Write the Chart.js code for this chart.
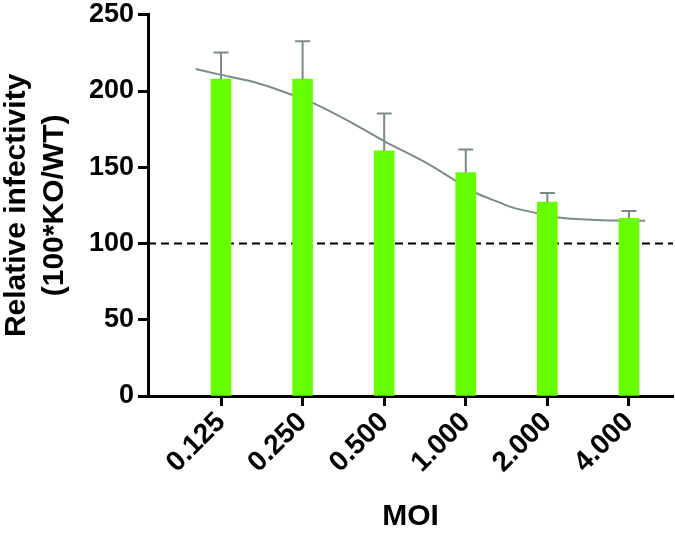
<!DOCTYPE html>
<html>
<head>
<meta charset="utf-8">
<script src="https://cdn.jsdelivr.net/npm/chart.js@4.4.1/dist/chart.umd.min.js"></script>
<style>
html,body{margin:0;padding:0;background:#fff;}
#wrap{width:675px;height:533px;}
</style>
</head>
<body>
<div id="wrap"><canvas id="c" width="675" height="533"></canvas></div>
<script>
// ---- data ----
const moiLabels = ['0.125', '0.250', '0.500', '1.000', '2.000', '4.000'];
const barValues = [207.8, 207.8, 160.8, 146.5, 127.1, 116.6];
const barErrors = [17.5, 24.9, 24.4, 15.1, 6.1, 4.8];
// fitted curve, read at points along the picture (x in category-index units)
const curveX = [-0.31, -0.04, 0.38, 0.87, 1.13, 1.52, 2.01, 2.56, 2.89, 3.13, 3.42, 3.54, 3.87, 4.11, 4.60, 5.20];
const curveY = [214.4, 211.1, 206.2, 197.5, 192.1, 181.6, 166.9, 151.6, 140.6, 133.0, 126.8, 124.2, 119.9, 117.3, 115.5, 115.0];
const referenceLevel = 100;
const yTicks = [0, 50, 100, 150, 200, 250];

const X_MIN = -0.895, X_MAX = 5.54;
const FONT = "'Liberation Sans', Arial, Helvetica, sans-serif";
const GREY = '#7b8a8a';

const errorBarPlugin = {
  id: 'errorBars',
  afterDatasetsDraw(chart) {
    const {ctx, scales: {x, y}} = chart;
    ctx.save();
    ctx.strokeStyle = GREY;
    ctx.lineWidth = 2;
    barValues.forEach((v, i) => {
      const px = x.getPixelForValue(i);
      const yb = y.getPixelForValue(v);
      const yt = y.getPixelForValue(v + barErrors[i]);
      ctx.beginPath();
      ctx.moveTo(px, yb);
      ctx.lineTo(px, yt);
      ctx.moveTo(px - 7.5, yt);
      ctx.lineTo(px + 7.5, yt);
      ctx.stroke();
    });
    ctx.restore();
  }
};

new Chart(document.getElementById('c'), {
  type: 'bar',
  data: {
    datasets: [
      {
        type: 'bar',
        data: barValues.map((v, i) => ({x: i, y: v})),
        backgroundColor: '#66ff00',
        borderWidth: 0,
        barThickness: 20,
        order: 1
      },
      {
        type: 'line',
        data: curveX.map((xv, i) => ({x: xv, y: curveY[i]})),
        borderColor: GREY,
        borderWidth: 2,
        pointRadius: 0,
        cubicInterpolationMode: 'monotone',
        fill: false,
        order: 2
      },
      {
        type: 'line',
        data: [{x: X_MIN, y: referenceLevel}, {x: X_MAX, y: referenceLevel}],
        borderColor: '#000',
        borderWidth: 2,
        borderDash: [8, 5],
        pointRadius: 0,
        fill: false,
        order: 3
      }
    ]
  },
  options: {
    responsive: false,
    animation: false,
    layout: {padding: {top: 0, right: 2, left: 0, bottom: 0}},
    plugins: {legend: {display: false}, tooltip: {enabled: false}},
    scales: {
      x: {
        type: 'linear',
        offset: false,
        min: X_MIN,
        max: X_MAX,
        afterBuildTicks(scale) {
          scale.ticks = moiLabels.map((_, i) => ({value: i}));
        },
        afterFit(scale) { scale.height = 137; },
        ticks: {
          callback: (v) => moiLabels[v],
          color: '#000',
          font: {family: FONT, size: 28, weight: 'bold'},
          minRotation: 45,
          maxRotation: 45,
          padding: 0,
          autoSkip: false
        },
        grid: {offset: false, drawOnChartArea: false, drawTicks: true, tickLength: 10, tickWidth: 3, tickColor: '#000'},
        border: {display: true, color: '#000', width: 3},
        title: {
          display: true,
          text: 'MOI',
          color: '#000',
          font: {family: FONT, size: 30, weight: 'bold', lineHeight: 1.0},
          padding: {top: 0, bottom: 1}
        }
      },
      y: {
        min: 0,
        max: 250,
        afterBuildTicks(scale) {
          scale.ticks = yTicks.map(v => ({value: v}));
        },
        afterFit(scale) { scale.width = 148; },
        ticks: {
          color: '#000',
          font: {family: FONT, size: 27, weight: 'bold', lineHeight: 0.8},
          padding: 4
        },
        grid: {drawOnChartArea: false, drawTicks: true, tickLength: 10, tickWidth: 3, tickColor: '#000'},
        border: {display: true, color: '#000', width: 3},
        title: {
          display: true,
          text: ['Relative infectivity', '(100*KO/WT)'],
          color: '#000',
          font: {family: FONT, size: 30, weight: 'bold', lineHeight: 1.25},
          padding: {top: -2, bottom: 0}
        }
      }
    }
  },
  plugins: [errorBarPlugin]
});
</script>
</body>
</html>
